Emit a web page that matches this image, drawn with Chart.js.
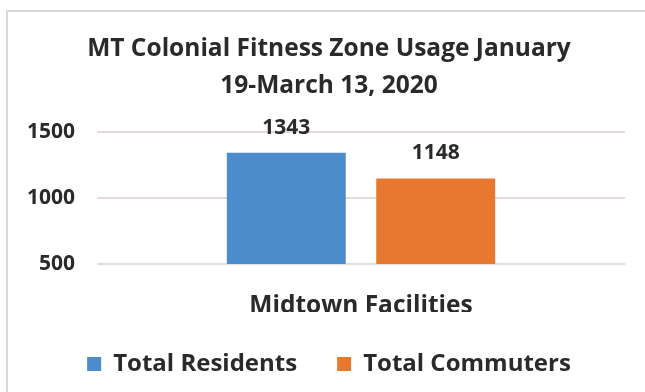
<!DOCTYPE html>
<html>
<head>
<meta charset="utf-8">
<script src="https://cdn.jsdelivr.net/npm/chart.js@4.4.1/dist/chart.umd.min.js"></script>
<style>
    html, body { margin: 0; padding: 0; background: #ffffff; overflow: hidden; }
    #chartBox {
        position: absolute;
        left: 6px;
        top: 10px;
        width: 642px;
        height: 380px;
        border-top: 2px solid #ddd7d4;
        border-left: 2px solid #ddd7d4;
    }
</style>
</head>
<body>
<div id="chartBox"><canvas id="usageChart"></canvas></div>
<script>
// Usage counts for the Midtown site
const categories = ["Midtown Facilities"];
const seriesNames = ["Total Residents", "Total Commuters"];
const residents = [1343];
const commuters = [1148];
const yTicks = [500, 1000, 1500];
const titleLines = ["MT Colonial Fitness Zone Usage January", "19-March 13, 2020"];

const fontFamily = "'Open Sans', Roboto, sans-serif";
const textColor = "#2a2a2a";

// Plugin to print the value above each bar
const barValueLabels = {
    id: "barValueLabels",
    afterDatasetsDraw(chart) {
        const ctx = chart.ctx;
        ctx.save();
        ctx.font = "bold 21px " + fontFamily;
        ctx.fillStyle = textColor;
        ctx.textAlign = "center";
        ctx.textBaseline = "middle";
        chart.data.datasets.forEach((ds, i) => {
            chart.getDatasetMeta(i).data.forEach((bar, j) => {
                ctx.fillText(String(ds.data[j]), bar.x, bar.y - 25);
            });
        });
        ctx.restore();
    }
};

function generateUsageChart() {
    const ctx = document.getElementById("usageChart").getContext("2d");
    new Chart(ctx, {
        type: "bar",
        data: {
            labels: categories,
            datasets: [{
                label: seriesNames[0],
                data: residents,
                backgroundColor: "#4c8ccd"
            }, {
                label: seriesNames[1],
                data: commuters,
                backgroundColor: "#e6792f"
            }]
        },
        plugins: [barValueLabels],
        options: {
            responsive: true,
            maintainAspectRatio: false,
            animation: false,
            categoryPercentage: 0.566,
            barPercentage: 0.796,
            layout: {
                padding: { left: 0, right: 0, top: 0, bottom: 6 }
            },
            scales: {
                x: {
                    grid: { display: false },
                    border: { display: false },
                    ticks: {
                        color: textColor,
                        padding: 22,
                        font: { family: fontFamily, size: 24.5, weight: "bold", lineHeight: 1 }
                    },
                    afterFit: (scale) => { scale.height = 48; }
                },
                y: {
                    min: yTicks[0],
                    max: yTicks[yTicks.length - 1],
                    afterBuildTicks: (scale) => {
                        scale.ticks = yTicks.map(v => ({ value: v }));
                    },
                    grid: { color: "#e4dbd9", lineWidth: 2, drawTicks: false },
                    border: { display: false },
                    ticks: {
                        color: textColor,
                        padding: 22,
                        font: { family: fontFamily, size: 21, weight: "bold" },
                        callback: (value) => String(value)
                    },
                    afterFit: (scale) => { scale.width = 89; }
                },
                // empty strip on the right so the plot stops short of the edge
                yRight: {
                    type: "linear",
                    position: "right",
                    grid: { display: false },
                    border: { display: false },
                    ticks: { display: false },
                    afterFit: (scale) => { scale.width = 25; }
                }
            },
            plugins: {
                title: {
                    display: true,
                    text: titleLines,
                    color: textColor,
                    font: { family: fontFamily, size: 24.5, weight: "bold", lineHeight: 1.51 },
                    padding: { top: 18.5, bottom: 27.5 }
                },
                legend: {
                    position: "bottom",
                    labels: {
                        color: textColor,
                        boxWidth: 14,
                        boxHeight: 14,
                        padding: 40,
                        font: { family: fontFamily, size: 24, weight: "bold" }
                    }
                },
                tooltip: { enabled: false }
            }
        }
    });
}

generateUsageChart();
</script>
</body>
</html>
